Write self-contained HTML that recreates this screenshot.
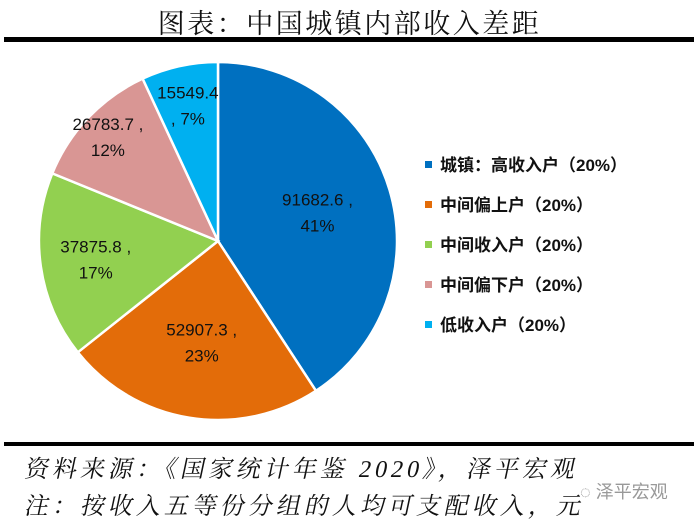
<!DOCTYPE html>
<html><head><meta charset="utf-8">
<style>
body{margin:0;background:#fff;width:699px;height:518px;overflow:hidden;position:relative;font-family:"Liberation Sans","Noto Sans CJK SC",sans-serif}
.t{position:absolute;white-space:nowrap}
</style></head><body>
<div class="t" style="left:0;width:699px;top:2px;text-align:center;font-family:'Liberation Serif','Noto Serif CJK SC',serif;font-size:27px;letter-spacing:2.5px;color:#111">图表：中国城镇内部收入差距</div>
<div class="t" style="left:4px;top:37px;width:690px;height:5px;background:#000"></div>
<div class="t" style="left:4px;top:442px;width:690px;height:4px;background:#000"></div>
<svg class="t" style="left:0;top:0" width="699" height="518" id="pie"></svg>
<div class="t" style="left:26px;top:449px;font-family:'Liberation Serif','Noto Serif CJK SC',serif;font-size:24px;letter-spacing:4px;color:#111;transform:skewX(-12deg)">资料来源：《国家统计年鉴 2020》，泽平宏观</div>
<div class="t" style="left:26px;top:486px;font-family:'Liberation Serif','Noto Serif CJK SC',serif;font-size:24px;letter-spacing:4px;color:#111;transform:skewX(-12deg)">注：按收入五等份分组的人均可支配收入，元</div>
<div class="t" style="left:580px;top:478px;font-size:18px;color:#999">◌ 泽平宏观</div>
<script>
const categories=["城镇：高收入户（20%）","中间偏上户（20%）","中间收入户（20%）","中间偏下户（20%）","低收入户（20%）"];
const values=[91682.6,52907.3,37875.8,26783.7,15549.4];
const pctLabels=["41%","23%","17%","12%","7%"];
const colors=["#0070C0","#E36C09","#92D050","#D99694","#00B0F0"];
const labelRadius=[0.58,0.57,0.69,0.85,0.78];
const svg=document.getElementById('pie');const NS="http://www.w3.org/2000/svg";
const cx=218,cy=241,r=179;
const total=values.reduce((a,b)=>a+b,0);
function pt(a,rr){return [cx+rr*Math.sin(a),cy-rr*Math.cos(a)];}
let a0=0;
values.forEach((v,i)=>{
 const a1=a0+v/total*2*Math.PI;
 const p0=pt(a0,r),p1=pt(a1,r);
 const path=document.createElementNS(NS,'path');
 path.setAttribute('d',`M${cx},${cy}L${p0[0]},${p0[1]}A${r},${r} 0 ${a1-a0>Math.PI?1:0} 1 ${p1[0]},${p1[1]}Z`);
 path.setAttribute('fill',colors[i]);path.setAttribute('stroke','#fff');path.setAttribute('stroke-width','2.5');
 
 
 svg.appendChild(path);
 const m=(a0+a1)/2;const lp=pt(m,r*labelRadius[i]);
 const small=i==4;
 const l1=small?String(values[i]):values[i]+' ,';
 const l2=small?', '+pctLabels[i]:pctLabels[i];
 [[l1,-6],[l2,20]].forEach(([s,dy])=>{
  const t=document.createElementNS(NS,'text');
  t.setAttribute('x',lp[0]);t.setAttribute('y',lp[1]+dy);t.setAttribute('text-anchor','middle');
  t.setAttribute('font-size','17');t.setAttribute('fill','#111');t.textContent=s;
  
  
  svg.appendChild(t);
 });
 a0=a1;
});
categories.forEach((c,i)=>{
 const y=165+i*40;
 const rc=document.createElementNS(NS,'rect');
 rc.setAttribute('x',425);rc.setAttribute('y',y-4);rc.setAttribute('width',7);rc.setAttribute('height',7);rc.setAttribute('fill',colors[i]);
 
 
 svg.appendChild(rc);
 const t=document.createElementNS(NS,'text');
 t.setAttribute('x',440);t.setAttribute('y',y+6);t.setAttribute('font-size','17');t.setAttribute('font-weight','bold');t.setAttribute('fill','#111');t.textContent=c;
 
 
 svg.appendChild(t);
});
</script>
</body></html>
